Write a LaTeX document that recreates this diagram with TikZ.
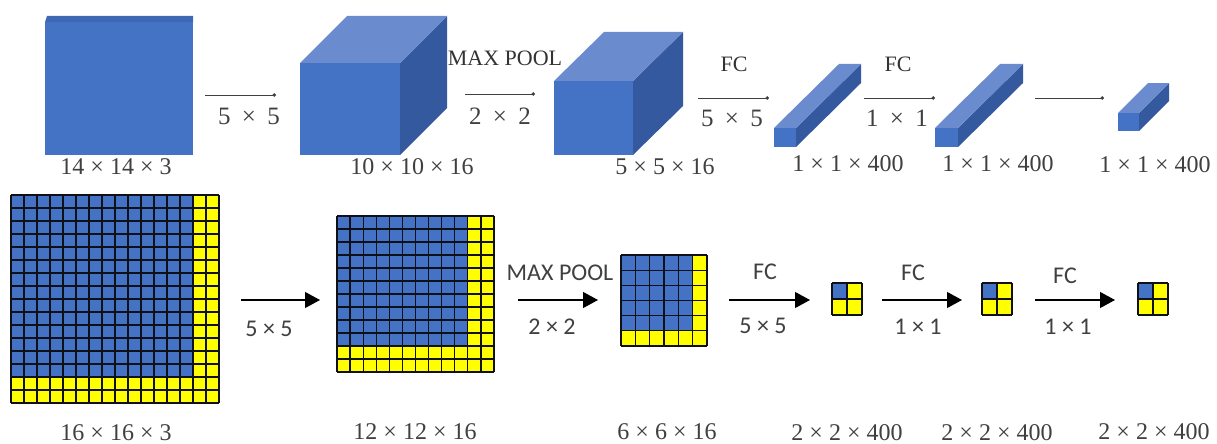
\documentclass[tikz,border=0pt]{standalone}
\usepackage{fontspec}
\setmainfont{Liberation Serif}
\newfontfamily\calib{Carlito}
\usetikzlibrary{arrows.meta}
\definecolor{frontblue}{HTML}{4472C4}
\definecolor{topblue}{HTML}{6A8BCE}
\definecolor{sideblue}{HTML}{35599F}
\definecolor{stripblue}{HTML}{3F68B4}
\definecolor{cellblue}{HTML}{4472C4}
\definecolor{cellyellow}{HTML}{FFFF00}
\definecolor{gridline}{HTML}{101018}
\tikzset{
  x=1pt,y=-1pt,
  thinarrow/.style={draw=black!75,line width=0.8pt,-{Circle[length=3.5pt,width=3.5pt]}},
  bigarrow/.style={draw=black,line width=1.1pt,-{Triangle[length=15pt,width=16pt]}},
  toplabel/.style={inner sep=0pt,font=\fontsize{22}{24}\selectfont,text=black!80},
  spacedlabel/.style={inner sep=0pt,font=\fontsize{25}{27}\selectfont,text=black!75},
  dimlabel/.style={inner sep=0pt,font=\fontsize{24}{26}\selectfont,text=black!75},
  caliblabel/.style={inner sep=0pt,font=\calib\fontsize{24}{26}\selectfont,text=black!75},
}
% #1 left, #2 front top, #3 front right, #4 bottom, #5 dx, #6 dy
\newcommand{\mycuboid}[6]{%
  \fill[sideblue] (#3,#2) -- (#3+#5,#2-#6) -- (#3+#5,#4-#6) -- (#3,#4) -- cycle;
  \fill[topblue] (#1,#2) -- (#1+#5,#2-#6) -- (#3+#5,#2-#6) -- (#3,#2) -- cycle;
  \fill[frontblue] (#1,#2) rectangle (#3,#4);
}
% #1 x0, #2 y0, #3 x1, #4 y1, #5 cells, #6 blue cells, #7 line width
\newcommand{\mygrid}[7]{%
  \pgfmathsetmacro{\cw}{(#3-#1)/#5}
  \pgfmathsetmacro{\ch}{(#4-#2)/#5}
  \fill[cellyellow] (#1,#2) rectangle (#3,#4);
  \fill[cellblue] (#1,#2) rectangle (#1+#6*\cw,#2+#6*\ch);
  \foreach \i in {0,...,#5}{
    \draw[gridline,line width=#7] (#1+\i*\cw,#2) -- (#1+\i*\cw,#4);
    \draw[gridline,line width=#7] (#1,#2+\i*\ch) -- (#3,#2+\i*\ch);
  }
}
\newcommand{\wide}[2]{#1\hspace{0.45em}×\hspace{0.45em}#2}
\begin{document}
\begin{tikzpicture}
\useasboundingbox (0,0) rectangle (1217,444);
\fill[white] (0,0) rectangle (1217,444);
% top row solids
\fill[stripblue] (45,22) -- (47,16) -- (193,16) -- (193,22) -- cycle;
\fill[frontblue] (45,22) rectangle (193,155);
\mycuboid{300}{63}{400}{155}{47}{47}
\mycuboid{554}{81}{633}{155}{50}{49}
\mycuboid{774}{128}{796}{147}{65}{64}
\mycuboid{935}{128}{958}{147}{65}{64}
\mycuboid{1118}{113}{1139}{131}{30}{30}
% top row connectors
\coordinate (ta1) at (205,95); \coordinate (tb1) at (276,95);
\coordinate (ta2) at (465,94); \coordinate (tb2) at (535,94);
\coordinate (ta3) at (698,98); \coordinate (tb3) at (769,98);
\coordinate (ta4) at (864,98); \coordinate (tb4) at (935,98);
\coordinate (ta5) at (1035,98); \coordinate (tb5) at (1104,98);
\draw[thinarrow] (ta1) -- (tb1);
\draw[thinarrow] (ta2) -- (tb2);
\draw[thinarrow] (ta3) -- (tb3);
\draw[thinarrow] (ta4) -- (tb4);
\draw[thinarrow] (ta5) -- (tb5);
% top row labels
\node[spacedlabel] (l1) at (249,116) {\wide{5}{5}};
\node[toplabel] (l2) at (505,58) {MAX POOL};
\node[spacedlabel] (l3) at (500,116) {\wide{2}{2}};
\node[toplabel] (l4) at (734,64) {FC};
\node[spacedlabel] (l5) at (732,118) {\wide{5}{5}};
\node[toplabel] (l6) at (898,64) {FC};
\node[spacedlabel] (l7) at (897,118) {\wide{1}{1}};
\node[dimlabel] (d1) at (116,167) {14 × 14 × 3};
\node[dimlabel] (d2) at (412,167) {10 × 10 × 16};
\node[dimlabel] (d3) at (665,167) {5 × 5 × 16};
\node[dimlabel] (d4) at (848,164) {1 × 1 × 400};
\node[dimlabel] (d5) at (998,164) {1 × 1 × 400};
\node[dimlabel] (d6) at (1155,165) {1 × 1 × 400};
% bottom grids
\mygrid{11}{195}{219}{403}{16}{14}{1.2pt}
\mygrid{337}{216}{494}{372}{12}{10}{1.2pt}
\mygrid{621}{255}{707}{346}{6}{5}{1.2pt}
\mygrid{832}{283}{862}{315}{2}{1}{1.4pt}
\mygrid{982}{283}{1012}{315}{2}{1}{1.4pt}
\mygrid{1138}{283}{1168}{315}{2}{1}{1.4pt}
% bottom connectors
\coordinate (ba1) at (241,300); \coordinate (bb1) at (320,300);
\coordinate (ba2) at (518,300); \coordinate (bb2) at (598,300);
\coordinate (ba3) at (729,300); \coordinate (bb3) at (810,300);
\coordinate (ba4) at (882,300); \coordinate (bb4) at (962,300);
\coordinate (ba5) at (1035,300); \coordinate (bb5) at (1115,300);
\draw[bigarrow] (ba1) -- (bb1);
\draw[bigarrow] (ba2) -- (bb2);
\draw[bigarrow] (ba3) -- (bb3);
\draw[bigarrow] (ba4) -- (bb4);
\draw[bigarrow] (ba5) -- (bb5);
% bottom labels
\node[caliblabel] (m1) at (269,329) {5 × 5};
\node[caliblabel] (m2) at (560,273) {MAX POOL};
\node[caliblabel] (m3) at (552,327) {2 × 2};
\node[caliblabel] (m4) at (765,272) {FC};
\node[caliblabel] (m5) at (763,326) {5 × 5};
\node[caliblabel] (m6) at (913,273) {FC};
\node[caliblabel] (m7) at (918,327) {1 × 1};
\node[caliblabel] (m8) at (1065,276) {FC};
\node[caliblabel] (m9) at (1068,327) {1 × 1};
\node[dimlabel] (e1) at (116,433) {16 × 16 × 3};
\node[dimlabel] (e2) at (415,432) {12 × 12 × 16};
\node[dimlabel] (e3) at (667,432) {6 × 6 × 16};
\node[dimlabel] (e4) at (847,433) {2 × 2 × 400};
\node[dimlabel] (e5) at (997,433) {2 × 2 × 400};
\node[dimlabel] (e6) at (1154,432) {2 × 2 × 400};
\end{tikzpicture}
\end{document}
